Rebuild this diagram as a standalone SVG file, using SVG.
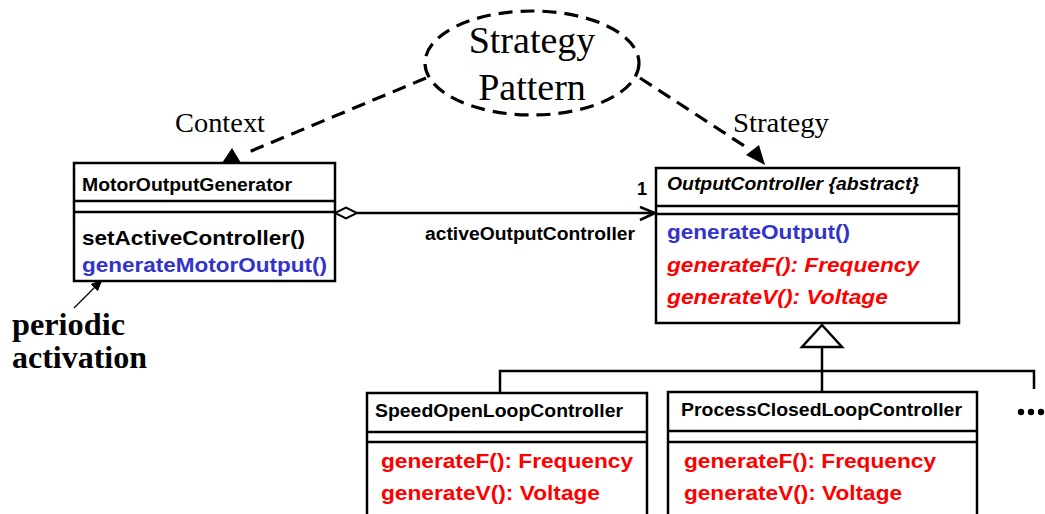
<svg xmlns="http://www.w3.org/2000/svg" width="1045" height="514" viewBox="0 0 1045 514">
  <style>
    .box { fill: #ffffff; stroke: #000000; stroke-width: 2.5; }
    .div { stroke: #000000; stroke-width: 2.5; }
    .line { stroke: #000000; stroke-width: 2.5; fill: none; }
    .dash { stroke: #000000; stroke-width: 3.2; fill: none; stroke-dasharray: 14 8; }
    .title { font-family: "Liberation Sans", Arial, sans-serif; font-weight: bold; font-size: 18px; fill: #000000; }
    .op { font-family: "Liberation Sans", Arial, sans-serif; font-weight: bold; font-size: 21px; }
    .blk { fill: #000000; }
    .blue { fill: #3333cc; }
    .red { fill: #ff0000; font-style: italic; }
    .redu { fill: #ff0000; }
    .serif { font-family: "Liberation Serif", "Times New Roman", serif; fill: #000000; }
  </style>
  <defs>
    <marker id="solidHead" markerWidth="12" markerHeight="10" refX="11" refY="5" orient="auto" markerUnits="userSpaceOnUse">
      <path d="M0,0 L12,5 L0,10 Z" fill="#000000"/>
    </marker>
  </defs>
  <rect width="1045" height="514" fill="#ffffff"/>

  <!-- pattern annotation -->
  <g id="strategy-pattern">
    <ellipse cx="532" cy="63" rx="107" ry="52" class="dash" stroke-dasharray="13 8"/>
    <text x="532" y="53" class="serif" font-size="38" text-anchor="middle">Strategy</text>
    <text x="532" y="100" class="serif" font-size="38" text-anchor="middle">Pattern</text>
  </g>
  <g id="role-labels">
    <text x="175" y="132" class="serif" font-size="28" textLength="90" lengthAdjust="spacingAndGlyphs">Context</text>
    <text x="733" y="132" class="serif" font-size="28" textLength="96" lengthAdjust="spacingAndGlyphs">Strategy</text>
  </g>
  <g id="periodic-activation">
    <text x="12" y="335" class="serif" font-size="32" font-weight="bold" textLength="113" lengthAdjust="spacingAndGlyphs">periodic</text>
    <text x="12" y="368" class="serif" font-size="32" font-weight="bold" textLength="135" lengthAdjust="spacingAndGlyphs">activation</text>
  </g>

  <!-- connectors -->
  <g id="connectors">
    <!-- role links from the pattern bubble -->
    <line x1="426" y1="78" x2="244" y2="154" class="dash"/>
    <polygon points="222,163 241,163 232,148" fill="#000000"/>
    <line x1="640" y1="78" x2="749" y2="149" class="dash"/>
    <polygon points="765,165 746,155 759,145" fill="#000000"/>
    <!-- aggregation -->
    <line x1="357" y1="213" x2="655" y2="213" class="line"/>
    <polygon points="335,213 346,207.5 357,213 346,218.5" fill="#ffffff" stroke="#000000" stroke-width="2"/>
    <polyline points="640,207 655,213 640,220" class="line" stroke-width="2"/>
    <text x="425" y="240" class="title" textLength="210" lengthAdjust="spacingAndGlyphs">activeOutputController</text>
    <text x="637" y="195" class="title" font-size="17">1</text>
    <!-- generalization -->
    <polyline points="500,393 500,371 1034,371 1034,389" class="line"/>
    <line x1="822" y1="347" x2="822" y2="392" class="line"/>
    <polygon points="822,325 802,347 842,347" fill="#ffffff" stroke="#000000" stroke-width="2.5"/>
    <!-- periodic trigger -->
    <line x1="74" y1="308" x2="102" y2="280" stroke="#000000" stroke-width="1.3" marker-end="url(#solidHead)"/>
  </g>

  <g id="MotorOutputGenerator">
    <rect x="74" y="163" width="261" height="118" class="box"/>
    <line x1="74" y1="201" x2="335" y2="201" class="div"/>
    <line x1="74" y1="212" x2="335" y2="212" class="div"/>
    <text x="82" y="191" class="title" textLength="210" lengthAdjust="spacingAndGlyphs">MotorOutputGenerator</text>
    <text x="82" y="245" class="op blk" textLength="223" lengthAdjust="spacingAndGlyphs">setActiveController()</text>
    <text x="82" y="272" class="op blue" textLength="245" lengthAdjust="spacingAndGlyphs">generateMotorOutput()</text>
  </g>

  <g id="OutputController">
    <rect x="656" y="168" width="303" height="155" class="box"/>
    <line x1="656" y1="206" x2="959" y2="206" class="div"/>
    <line x1="656" y1="214" x2="959" y2="214" class="div"/>
    <text x="667" y="190" class="title" font-style="italic" textLength="252" lengthAdjust="spacingAndGlyphs">OutputController {abstract}</text>
    <text x="667" y="239" class="op blue" textLength="183" lengthAdjust="spacingAndGlyphs">generateOutput()</text>
    <text x="667" y="272" class="op red" textLength="252" lengthAdjust="spacingAndGlyphs">generateF(): Frequency</text>
    <text x="667" y="304" class="op red" textLength="221" lengthAdjust="spacingAndGlyphs">generateV(): Voltage</text>
  </g>

  <g id="SpeedOpenLoopController">
    <rect x="367" y="393" width="280" height="140" class="box"/>
    <line x1="367" y1="432" x2="647" y2="432" class="div"/>
    <line x1="367" y1="442" x2="647" y2="442" class="div"/>
    <text x="375" y="417" class="title" textLength="248" lengthAdjust="spacingAndGlyphs">SpeedOpenLoopController</text>
    <text x="381" y="468" class="op redu" textLength="252" lengthAdjust="spacingAndGlyphs">generateF(): Frequency</text>
    <text x="381" y="500" class="op redu" textLength="219" lengthAdjust="spacingAndGlyphs">generateV(): Voltage</text>
  </g>

  <g id="ProcessClosedLoopController">
    <rect x="668" y="392" width="309" height="140" class="box"/>
    <line x1="668" y1="431" x2="977" y2="431" class="div"/>
    <line x1="668" y1="442" x2="977" y2="442" class="div"/>
    <text x="681" y="416" class="title" textLength="281" lengthAdjust="spacingAndGlyphs">ProcessClosedLoopController</text>
    <text x="684" y="468" class="op redu" textLength="252" lengthAdjust="spacingAndGlyphs">generateF(): Frequency</text>
    <text x="684" y="500" class="op redu" textLength="218" lengthAdjust="spacingAndGlyphs">generateV(): Voltage</text>
  </g>

  <g id="more-subclasses">
    <circle cx="1021" cy="412" r="3.2" fill="#000000"/>
    <circle cx="1031" cy="412" r="3.2" fill="#000000"/>
    <circle cx="1041" cy="412" r="3.2" fill="#000000"/>
  </g>
</svg>
